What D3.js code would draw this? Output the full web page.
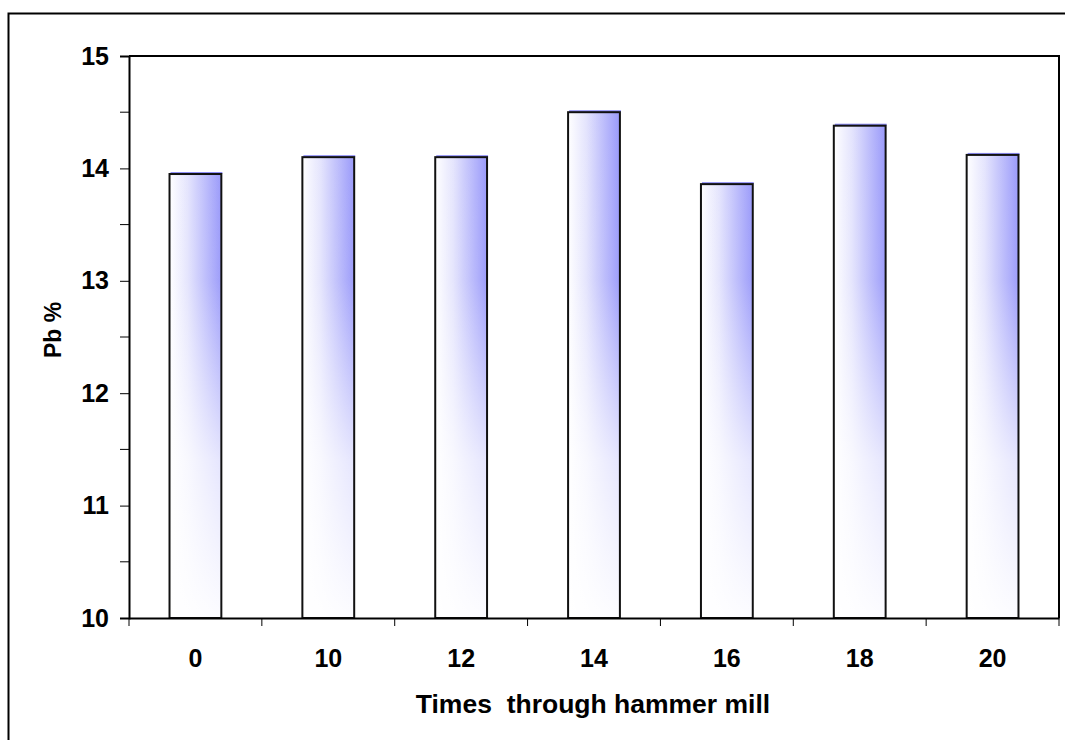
<!DOCTYPE html>
<html>
<head>
<meta charset="utf-8">
<script src="https://cdn.jsdelivr.net/npm/d3@7"></script>
<style>
  body { margin: 0; background: #fff; }
  text { font-family: "Liberation Sans", Arial, sans-serif; font-weight: bold; fill: #000; }
</style>
</head>
<body>
<div id="chart"></div>
<script>
const categories = ["0", "10", "12", "14", "16", "18", "20"];
const pbValues = [13.95, 14.1, 14.1, 14.5, 13.86, 14.38, 14.12];
const yTicks = [10, 11, 12, 13, 14, 15];
const yMinorTicks = [10.5, 11.5, 12.5, 13.5, 14.5];

const width = 1065, height = 740;
const margin = {left: 129, top: 56, right: 6, bottom: 122};
const plotW = width - margin.left - margin.right;
const plotH = height - margin.top - margin.bottom;

const svg = d3.select("#chart").append("svg")
    .attr("width", width)
    .attr("height", height);

// outer chart frame (runs off the right and bottom edges)
svg.append("rect")
    .attr("x", 8.5).attr("y", 13.5)
    .attr("width", width).attr("height", height)
    .attr("fill", "none").attr("stroke", "#000").attr("stroke-width", 2);

const defs = svg.append("defs");
const hGrad = defs.append("linearGradient").attr("id", "barH")
    .attr("x1", "0").attr("x2", "1").attr("y1", "0").attr("y2", "0");
hGrad.append("stop").attr("offset", "0%").attr("stop-color", "#ffffff");
hGrad.append("stop").attr("offset", "35%").attr("stop-color", "#e4e4fd");
hGrad.append("stop").attr("offset", "100%").attr("stop-color", "#9898fa");

// white fade towards the bottom of the plot
const vGrad = defs.append("linearGradient").attr("id", "barV")
    .attr("gradientUnits", "userSpaceOnUse")
    .attr("x1", 0).attr("x2", 0).attr("y1", 0).attr("y2", plotH);
vGrad.append("stop").attr("offset", "0%").attr("stop-color", "#fff").attr("stop-opacity", 0);
vGrad.append("stop").attr("offset", "40%").attr("stop-color", "#fff").attr("stop-opacity", 0.05);
vGrad.append("stop").attr("offset", "72%").attr("stop-color", "#fff").attr("stop-opacity", 0.75);
vGrad.append("stop").attr("offset", "100%").attr("stop-color", "#fff").attr("stop-opacity", 0.97);

const g = svg.append("g").attr("transform", `translate(${margin.left},${margin.top})`);

const x = d3.scaleBand().domain(categories).range([0, plotW]).paddingInner(0.61).paddingOuter(0.305);
const y = d3.scaleLinear().domain([10, 15]).range([plotH, 0]);

// plot frame top + right
g.append("path")
    .attr("d", `M0,0H${plotW}V${plotH}`)
    .attr("fill", "none").attr("stroke", "#000").attr("stroke-width", 2);

const bars = g.selectAll(".bar").data(pbValues).enter().append("g").attr("class", "bar");

bars.append("rect")
    .attr("x", (d, i) => x(categories[i]) + 1)
    .attr("y", d => y(d) - 2)
    .attr("width", x.bandwidth())
    .attr("height", 2)
    .attr("fill", "#8c8cf5");

bars.append("rect")
    .attr("x", (d, i) => x(categories[i]))
    .attr("y", d => y(d))
    .attr("width", x.bandwidth())
    .attr("height", d => y(10) - y(d))
    .attr("fill", "url(#barH)");

bars.append("rect")
    .attr("x", (d, i) => x(categories[i]))
    .attr("y", d => y(d))
    .attr("width", x.bandwidth())
    .attr("height", d => y(10) - y(d))
    .attr("fill", "url(#barV)")
    .attr("stroke", "#111").attr("stroke-width", 2);

// y axis
const yAxis = g.append("g")
    .call(d3.axisLeft(y).tickValues(yTicks).tickSize(9).tickPadding(11).tickFormat(d3.format("d")));
yAxis.selectAll(".tick text").style("font-size", "25px");
yAxis.append("g").selectAll("line").data(yMinorTicks).enter().append("line")
    .attr("x1", -9).attr("x2", 0)
    .attr("y1", d => y(d)).attr("y2", d => y(d))
    .attr("stroke", "#000");

// x axis
const xAxis = g.append("g").attr("transform", `translate(0,${plotH})`)
    .call(d3.axisBottom(x).tickSize(0).tickPadding(31));
xAxis.selectAll(".tick text").style("font-size", "25px");
xAxis.append("g").selectAll("line")
    .data(d3.range(categories.length + 1)).enter().append("line")
    .attr("x1", d => d * x.step()).attr("x2", d => d * x.step())
    .attr("y1", 0).attr("y2", 8)
    .attr("stroke", "#000");

svg.selectAll(".domain").attr("stroke", "#000").attr("stroke-width", 2);
svg.selectAll(".tick line").attr("stroke", "#000");

svg.append("text")
    .attr("x", 593)
    .attr("y", 713)
    .attr("text-anchor", "middle")
    .style("font-size", "26.5px")
    .style("white-space", "pre")
    .attr("xml:space", "preserve")
    .text("Times  through hammer mill");

svg.append("text")
    .attr("transform", "translate(61,330) rotate(-90)")
    .attr("text-anchor", "middle")
    .style("font-size", "23px")
    .text("Pb %");
</script>
</body>
</html>
